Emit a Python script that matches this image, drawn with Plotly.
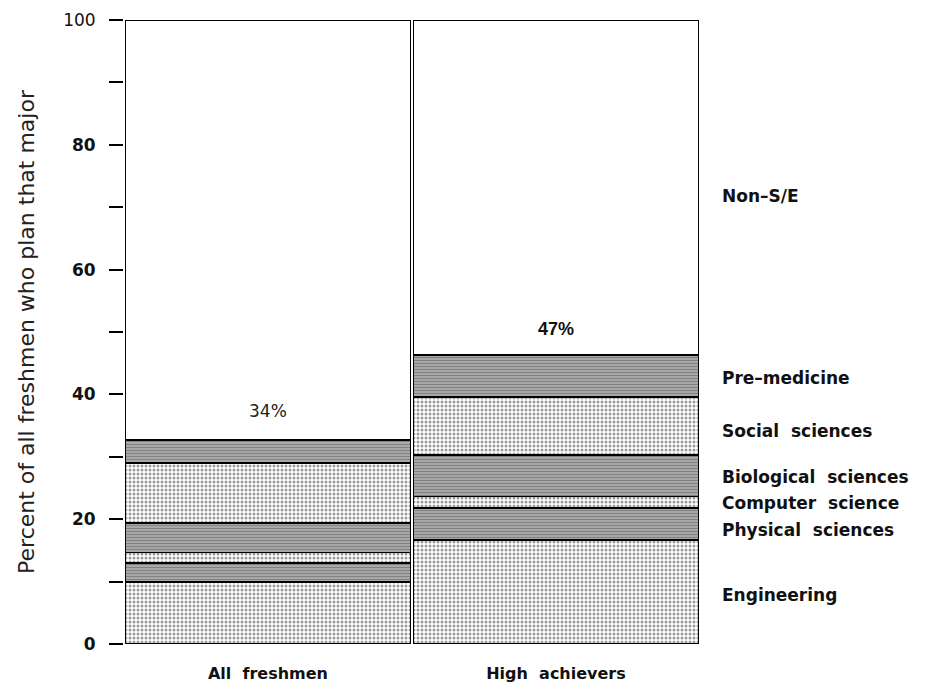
import plotly.graph_objects as go

groups = ["All freshmen", "High achievers"]
group_labels = ["All\u00a0\u00a0freshmen", "High\u00a0\u00a0achievers"]
majors = ["Engineering", "Physical sciences", "Computer science",
          "Biological sciences", "Social sciences", "Pre-medicine", "Non-S/E"]
all_freshmen = [9.9, 3.1, 1.7, 4.7, 9.6, 3.7, 67.3]
high_achievers = [16.7, 5.1, 1.8, 6.7, 9.3, 6.7, 53.7]
totals_text = ["34%", "47%"]
totals_pos = [37.3, 50.5]
label_pos = [7.9, 18.3, 22.6, 26.8, 34.1, 42.6, 71.8]
y_tickvals = [0, 10, 20, 30, 40, 50, 60, 70, 80, 90, 100]
y_ticktext = ["<b>0</b>", "", "<b>20</b>", "", "<b>40</b>", "", "<b>60</b>", "",
              "<b>80</b>", "", "100"]

light = dict(shape=".", bgcolor="#ffffff", fgcolor="#333333", size=4, solidity=0.45)
dark = dict(shape="-", bgcolor="#b4b4b4", fgcolor="#505050", size=3, solidity=0.5)
none = dict(shape="")
patterns = [light, dark, light, dark, light, dark, none]

fig = go.Figure()
for i, m in enumerate(majors):
    fig.add_trace(go.Bar(
        x=groups, y=[all_freshmen[i], high_achievers[i]], name=m,
        marker=dict(color="#ffffff", pattern=patterns[i],
                    line=dict(color="#000000", width=1.5)),
        showlegend=False, hoverinfo="name+y"))

for i, m in enumerate(majors):
    fig.add_annotation(xref="paper", yref="y", x=1.035, y=label_pos[i],
                       text="<b>" + m.replace("-", "\u2013").replace(" ", "\u00a0\u00a0") + "</b>",
                       showarrow=False, xanchor="left", yanchor="middle",
                       font=dict(family="DejaVu Sans", size=17, color="#111"))

fig.add_annotation(x=groups[0], y=totals_pos[0], text=totals_text[0], showarrow=False,
                   font=dict(family="DejaVu Sans", size=17, color="#222"))
fig.add_annotation(x=groups[1], y=totals_pos[1], text="<b>" + totals_text[1] + "</b>",
                   showarrow=False,
                   font=dict(family="Liberation Sans", size=18, color="#111"))

# page body has an 8px margin: figure is sized/offset to compensate
fig.update_layout(
    width=940, height=683, barmode="stack", bargap=0.01,
    plot_bgcolor="#ffffff", paper_bgcolor="#ffffff",
    margin=dict(l=116, r=248, t=12, b=47, autoexpand=False),
    font=dict(family="Liberation Sans", color="#111"),
)
fig.update_yaxes(range=[0, 100], tickvals=y_tickvals, ticktext=y_ticktext,
                 ticks="outside", ticklen=14, tickcolor="#000", tickwidth=1.5,
                 ticklabelstandoff=10,
                 showgrid=False, zeroline=False, showline=False,
                 tickfont=dict(family="DejaVu Sans", size=17, color="#111"),
                 title=dict(text="Percent of all freshmen who plan that major",
                            font=dict(family="DejaVu Sans", size=22, color="#222"),
                            standoff=22))
fig.update_xaxes(showgrid=False, zeroline=False, showline=False, ticks="",
                 tickvals=groups, ticktext=group_labels, ticklabelstandoff=18,
                 tickfont=dict(family="DejaVu Sans", size=16, color="#111", weight="bold"))

fig.write_html("out.html")
